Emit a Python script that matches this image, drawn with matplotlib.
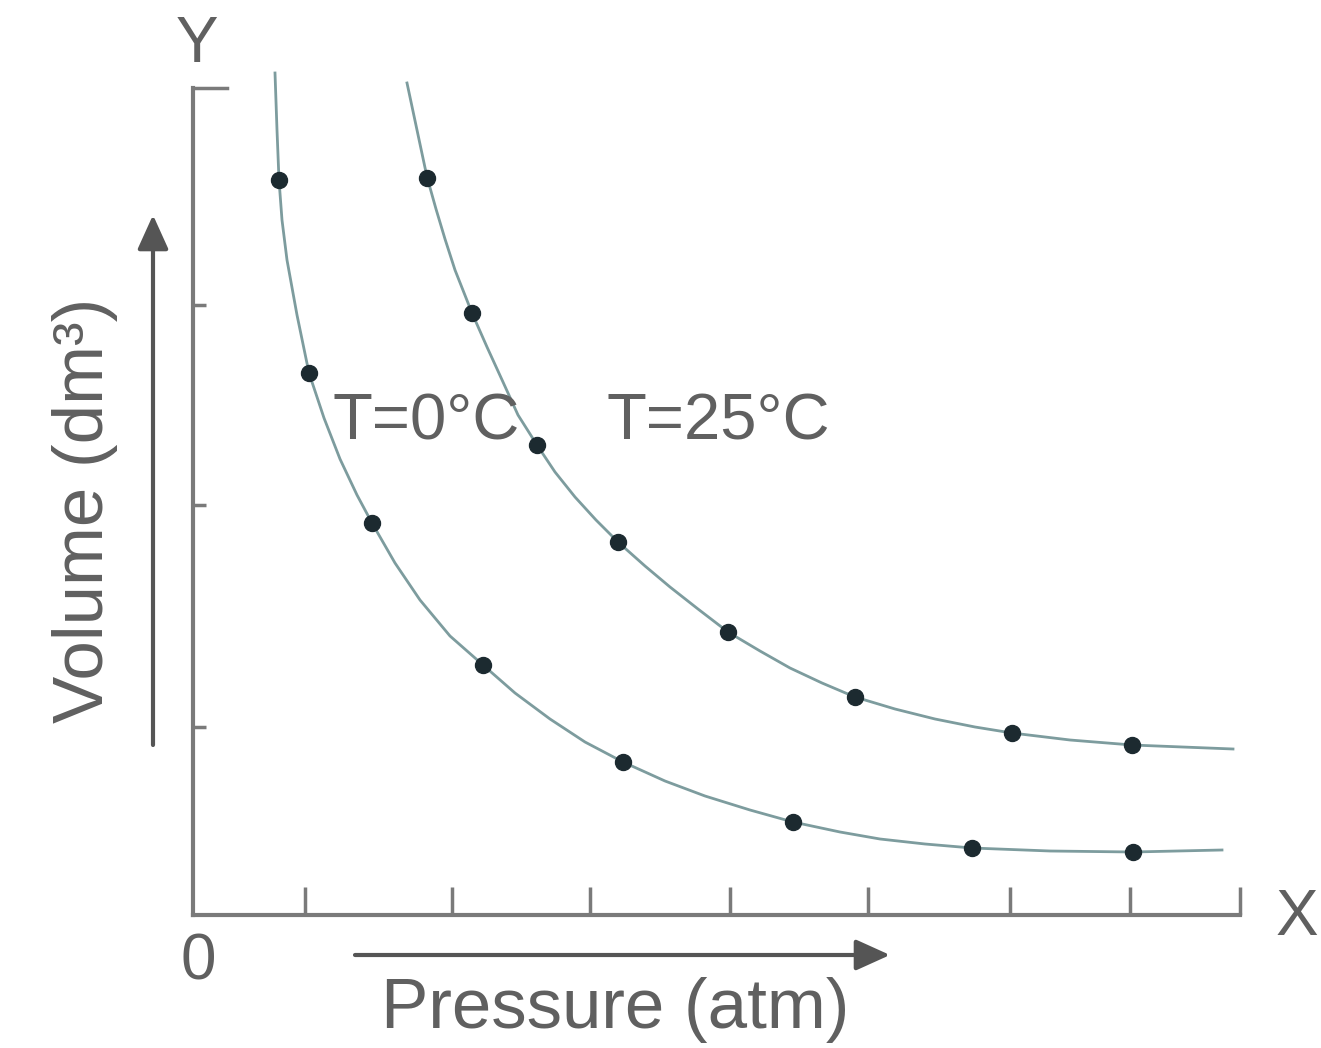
import matplotlib
matplotlib.use("Agg")
import matplotlib.pyplot as plt

# Boyle's law isotherms
p_0c = [0.86, 1.16, 1.79, 2.90, 4.30, 6.00, 7.79, 9.40]
v_0c = [7.35, 5.42, 3.92, 2.50, 1.53, 0.93, 0.67, 0.63]
p_25c = [2.34, 2.79, 3.44, 4.25, 5.35, 6.62, 8.19, 9.39]
v_25c = [7.37, 6.02, 4.70, 3.73, 2.83, 2.18, 1.82, 1.70]

# traced curve lines
curve_p_0c = [0.82, 0.84, 0.86, 0.89, 0.94, 1.04, 1.16, 1.31, 1.47, 1.64,
              1.79, 2.02, 2.27, 2.57, 2.90, 3.22, 3.57, 3.92, 4.30, 4.72,
              5.12, 5.57, 6.00, 6.47, 6.87, 7.32, 7.79, 8.57, 9.40, 10.29]
curve_v_0c = [8.42, 7.85, 7.35, 6.95, 6.55, 6.00, 5.42, 4.97, 4.56, 4.20,
              3.92, 3.52, 3.15, 2.79, 2.50, 2.22, 1.96, 1.73, 1.53, 1.34,
              1.19, 1.05, 0.93, 0.83, 0.76, 0.71, 0.67, 0.64, 0.63, 0.65]
curve_p_25c = [2.14, 2.24, 2.34, 2.43, 2.52, 2.62, 2.79, 2.94, 3.10, 3.25,
               3.44, 3.62, 3.82, 4.03, 4.25, 4.52, 4.77, 5.05, 5.35, 5.67,
               5.97, 6.29, 6.62, 7.02, 7.42, 7.82, 8.19, 8.77, 9.39, 10.40]
curve_v_25c = [8.32, 7.85, 7.38, 7.06, 6.76, 6.45, 6.02, 5.68, 5.33, 5.00,
               4.70, 4.43, 4.18, 3.95, 3.73, 3.49, 3.28, 3.06, 2.83, 2.64,
               2.47, 2.32, 2.18, 2.06, 1.96, 1.88, 1.82, 1.75, 1.70, 1.66]

x_ticks = [1.12, 2.59, 3.97, 5.37, 6.75, 8.17, 9.37, 10.47]
y_ticks = [1.88, 4.10, 6.10]
x_max, y_max = 10.47, 8.27

text_col = "#606060"
axis_col = "#7a7a7a"
line_col = "#7d9c9e"
dot_col = "#1c2a30"
font = "Liberation Sans"

fig = plt.figure(figsize=(13.21, 10.48), dpi=100)
ax = fig.add_axes([193 / 1321, 133 / 1048, 1047 / 1321, 827 / 1048])
ax.set_xlim(0, x_max)
ax.set_ylim(0, y_max)

for s in ["top", "right"]:
    ax.spines[s].set_visible(False)
for s in ["left", "bottom"]:
    ax.spines[s].set_color(axis_col)
    ax.spines[s].set_linewidth(3)

ax.set_xticks(x_ticks)
ax.set_yticks(y_ticks)
ax.set_xticklabels([])
ax.set_yticklabels([])
ax.tick_params(axis="x", direction="in", length=20, width=2.5, color=axis_col)
ax.tick_params(axis="y", direction="in", length=9, width=2.5, color=axis_col)
# longer tick at the top of the y axis
ax.plot([0, 0.34], [y_max, y_max], color=axis_col, lw=2.5, clip_on=False)

# curves and measured points
ax.plot(curve_p_0c, curve_v_0c, color=line_col, lw=2, clip_on=False)
ax.plot(curve_p_25c, curve_v_25c, color=line_col, lw=2, clip_on=False)
ax.plot(p_0c, v_0c, "o", color=dot_col, ms=11.5, clip_on=False)
ax.plot(p_25c, v_25c, "o", color=dot_col, ms=11.5, clip_on=False)

ax.text(1.40, 4.75, "T=0°C", fontsize=47, color=text_col, family=font, va="baseline")
ax.text(4.13, 4.75, "T=25°C", fontsize=47, color=text_col, family=font, va="baseline")

# axis letters and origin
ax.text(0.04, 8.70, "Y", fontsize=46, color=text_col, family=font, ha="center", va="center")
ax.text(11.04, -0.03, "X", fontsize=46, color=text_col, family=font, ha="center", va="center")
ax.text(0.05, -0.47, "0", fontsize=46, color=text_col, family=font, ha="center", va="center")

# direction arrows
arrow = dict(arrowstyle="-|>,head_length=2.1,head_width=0.95",
             color="#555555", lw=3, shrinkA=0, shrinkB=0)
ax.annotate("", xy=(-0.40, 7.00), xytext=(-0.40, 1.70), annotation_clip=False,
            arrowprops=arrow)
ax.annotate("", xy=(6.97, -0.40), xytext=(1.62, -0.40), annotation_clip=False,
            arrowprops=arrow)

ax.text(4.22, -0.95, "Pressure (atm)", fontsize=51, color=text_col, family=font,
        ha="center", va="center")
ax.text(-1.08, 4.05, "Volume (dm³)", fontsize=51, color=text_col, family=font,
        ha="center", va="center", rotation=90)

fig.savefig("out.png", dpi=100)
